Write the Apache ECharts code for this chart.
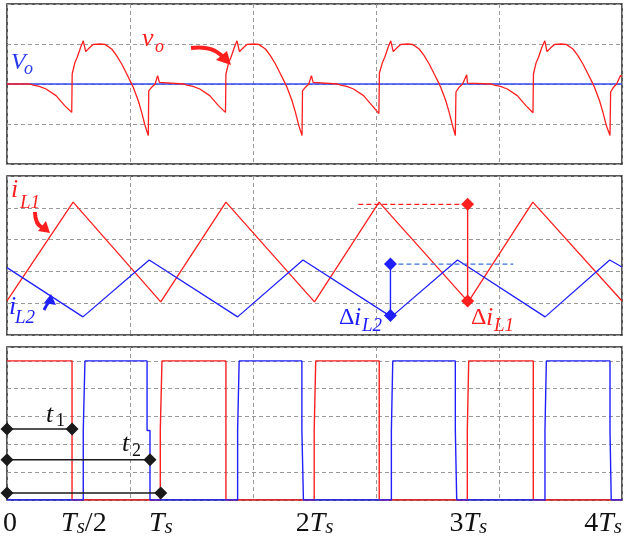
<!DOCTYPE html>
<html>
<head>
<meta charset="utf-8">
<script src="https://cdn.jsdelivr.net/npm/echarts@6/dist/echarts.min.js"></script>
<style>
html,body{margin:0;padding:0;background:#fff;}
#chart{width:635px;height:538px;}
</style>
</head>
<body>
<div id="chart"></div>
<script>
// ---------- data (time in units of Ts) ----------
const tickValues = [0, 0.5, 1, 2, 3, 4];
const tickLabels = ['{z|0}', '{i|T}{s|s}{n|/2}', '{i|T}{s|s}', '{n|2}{i|T}{s|s}', '{n|3}{i|T}{s|s}', '{n|4}{i|T}{s|s}'];

// Panel 1: output voltage ripple (relative to Vo, in grid divisions)
const voRef = [[0, 0], [4, 0]];
const voWave = [
  [0,0],[0.15,0],[0.17,-0.03],[0.21,-0.06],[0.254,-0.125],[0.319,-0.29],[0.375,-0.54],[0.421,-0.71],[0.424,0.25],[0.442,0.54],[0.457,0.67],[0.479,0.92],[0.496,1.08],[0.512,0.81],[0.54,0.92],[0.561,0.99],[0.605,1.0],[0.637,0.99],[0.681,0.875],[0.713,0.71],[0.746,0.5],[0.779,0.25],[0.806,0.04],[0.821,-0.08],[0.854,-0.42],[0.876,-0.71],[0.898,-1.04],[0.919,-1.29],[0.922,-0.17],[0.941,-0.08],[0.963,0],[0.98,0.21],[0.991,0.04],
  [1.0,0],[1.15,0],[1.17,-0.03],[1.21,-0.06],[1.254,-0.125],[1.319,-0.29],[1.375,-0.54],[1.421,-0.71],[1.424,0.25],[1.442,0.54],[1.457,0.67],[1.479,0.92],[1.496,1.08],[1.512,0.81],[1.54,0.92],[1.561,0.99],[1.605,1.0],[1.637,0.99],[1.681,0.875],[1.713,0.71],[1.746,0.5],[1.779,0.25],[1.806,0.04],[1.821,-0.08],[1.854,-0.42],[1.876,-0.71],[1.898,-1.04],[1.919,-1.29],[1.922,-0.17],[1.941,-0.08],[1.963,0],[1.98,0.21],[1.991,0.04],
  [2.0,0],[2.15,0],[2.17,-0.03],[2.21,-0.06],[2.254,-0.125],[2.319,-0.29],[2.375,-0.54],[2.419,-0.74],[2.422,0.27],[2.442,0.54],[2.457,0.67],[2.479,0.92],[2.496,1.08],[2.512,0.81],[2.54,0.92],[2.561,0.99],[2.605,1.0],[2.637,0.99],[2.681,0.875],[2.713,0.71],[2.746,0.5],[2.779,0.25],[2.806,0.04],[2.821,-0.08],[2.854,-0.42],[2.876,-0.71],[2.898,-1.04],[2.916,-1.29],[2.92,-0.2],[2.941,-0.08],[2.963,0],[2.99,0.23],[2.995,0.02],
  [3.0,0],[3.15,0],[3.17,-0.03],[3.21,-0.06],[3.254,-0.125],[3.319,-0.29],[3.375,-0.54],[3.421,-0.72],[3.424,0.25],[3.442,0.54],[3.457,0.67],[3.479,0.92],[3.498,1.08],[3.512,0.81],[3.54,0.92],[3.561,0.99],[3.605,1.0],[3.637,0.99],[3.681,0.875],[3.713,0.71],[3.746,0.5],[3.779,0.25],[3.806,0.04],[3.821,-0.08],[3.854,-0.42],[3.876,-0.71],[3.898,-1.04],[3.922,-1.29],[3.926,-0.2],[3.945,-0.08],[3.965,0],[3.99,0.21],[4.0,0.18]
];

// Panel 2: inductor currents
const iL1 = [[0,1.07],[0.43,4.18],[1.0,1.04],[1.424,4.18],[2.0,1.04],[2.42,4.18],[3.0,1.04],[3.42,4.18],[4.0,1.07]];
const iL2 = [[0,2.12],[0.494,0.57],[0.925,2.36],[1.5,0.57],[1.925,2.36],[2.5,0.57],[2.93,2.36],[3.5,0.57],[3.92,2.36],[4.0,2.14]];
const dL1Guide = [[2.285,4.11],[2.996,4.11]];
const dL1Bar = [[2.996,4.11],[2.996,1.07]];
const dL2Guide = [[2.494,2.23],[3.293,2.23]];
const dL2Bar = [[2.494,2.23],[2.494,0.61]];

// Panel 3: gate signals
const gate1 = [[0,1],[0.423,1],[0.423,0],[0.997,0],[0.997,0.5],[1.008,0.5],[1.008,1],[1.424,1],[1.424,0],[1.998,0],[1.998,0.5],[2.008,0.5],[2.008,1],[2.421,1],[2.421,0],[2.994,0],[2.994,0.5],[3.003,0.5],[3.003,1],[3.423,1],[3.423,0],[4,0]];
const gate2 = [[0,0],[0.496,0],[0.496,0.5],[0.507,0.5],[0.507,1],[0.911,1],[0.911,0.5],[0.93,0.5],[0.93,0],[1.5,0],[1.5,0.5],[1.51,0.5],[1.51,1],[1.918,1],[1.918,0.5],[1.928,0.5],[1.928,0],[2.5,0],[2.5,0.5],[2.509,0.5],[2.509,1],[2.916,1],[2.916,0.5],[2.925,0.5],[2.925,0],[3.499,0],[3.499,0.5],[3.508,0.5],[3.508,1],[3.922,1],[3.922,0.5],[3.93,0.5],[3.93,0],[4,0]];
const t1Bar = [[0,0.51],[0.423,0.51]];
const t2Bar = [[0,0.29],[0.93,0.29]];
const tsBar = [[0,0.05],[1.0,0.05]];

// ---------- styling ----------
const RED = '#ff1f1f', BLUE = '#2020ff', BLK = '#1a1a1a';
const SERIF = '"Liberation Serif", "DejaVu Serif", serif';
const dashGrid = {show:true, lineStyle:{color:'#9a9a9a', type:[4,3], width:1}};
function xAx(g){return {gridIndex:g,type:'value',min:0,max:4,interval:0.8,axisLine:{show:false},axisTick:{show:false},axisLabel:{show:false},splitLine:dashGrid};}
function yAx(g,min,max,iv){return {gridIndex:g,type:'value',min:min,max:max,interval:iv,axisLine:{show:false},axisTick:{show:false},axisLabel:{show:false},splitLine:dashGrid};}
function ln(data,xi,color,extra){return Object.assign({type:'line',xAxisIndex:xi,yAxisIndex:xi,data:data,showSymbol:false,symbol:'none',lineStyle:{color:color,width:1.3},itemStyle:{color:color},animation:false,silent:true},extra||{});}
function marked(data,xi,color,w){return ln(data,xi,color,{symbol:'diamond',symbolSize:13,showSymbol:true,lineStyle:{color:color,width:w}});}

const chart = echarts.init(document.getElementById('chart'));
const gridBase = {left:7,right:13,show:true,borderColor:'#222',borderWidth:1.5,backgroundColor:'#fff',containLabel:false,outerBoundsMode:'none'};

function txt(x,y,s,size,color,italic){return {type:'text',x:x,y:y,z:100,style:{text:s,fill:color,font:(italic?'italic ':'')+size+'px '+SERIF,textVerticalAlign:'middle',verticalAlign:'middle'}};}

const option = {
  backgroundColor:'#fff',
  animation:false,
  grid:[
    Object.assign({top:4,height:160},gridBase),
    Object.assign({top:176,height:159},gridBase),
    Object.assign({top:347,height:153},gridBase)
  ],
  xAxis:[xAx(0),xAx(1),xAx(2),
    {gridIndex:2,type:'value',min:0,max:4,interval:0.5,position:'bottom',
     axisLine:{show:false},axisTick:{show:false},splitLine:{show:false},
     axisLabel:{show:true,margin:6,alignMaxLabel:'right',
       formatter:function(v){for(let k=0;k<tickValues.length;k++){if(Math.abs(tickValues[k]-v)<1e-6)return tickLabels[k];}return '';},
       rich:{
         z:{fontFamily:SERIF,fontSize:28,color:'#111',lineHeight:32,verticalAlign:'bottom',padding:[0,0,0,6]},
         n:{fontFamily:SERIF,fontSize:28,color:'#111',lineHeight:32,verticalAlign:'bottom'},
         i:{fontFamily:SERIF,fontSize:28,fontStyle:'italic',color:'#111',lineHeight:32,verticalAlign:'bottom'},
         s:{fontFamily:SERIF,fontSize:21,fontStyle:'italic',color:'#111',lineHeight:15,verticalAlign:'bottom'}
       }}}
  ],
  yAxis:[yAx(0,-2,2,1),yAx(1,0,5,1),yAx(2,0,1.1,0.2)],
  series:[
    ln(voRef,0,'#3347f0',{lineStyle:{color:'#3347f0',width:1.6}}),
    ln(voWave,0,RED),
    ln(iL1,1,RED),
    ln(iL2,1,BLUE),
    ln(dL1Guide,1,RED,{lineStyle:{color:RED,width:1.2,type:[5,3]}}),
    ln(dL2Guide,1,'#3b6fe0',{lineStyle:{color:'#3b6fe0',width:1.2,type:[5,3]}}),
    marked(dL1Bar,1,RED,1.4),
    marked(dL2Bar,1,BLUE,1.4),
    ln(gate1,2,RED,{lineStyle:{color:RED,width:1.4}}),
    ln(gate2,2,BLUE,{lineStyle:{color:BLUE,width:1.4}}),
    marked(t1Bar,2,BLK,1.5),
    marked(t2Bar,2,BLK,1.5),
    marked(tsBar,2,BLK,1.5)
  ],
  graphic:[
    // panel 1 labels
    txt(11,63,'V',24,'#2a3af0',true),
    txt(24,69,'o',18,'#2a3af0',true),
    txt(142,39,'v',26,RED,true),
    txt(155,47,'o',18,RED,true),
    {type:'bezierCurve',z:100,shape:{x1:191,y1:48,x2:223,y2:57,cpx1:208,cpy1:46,cpx2:216,cpy2:50},style:{stroke:RED,lineWidth:4,fill:null}},
    {type:'polygon',z:100,shape:{points:[[231,65],[227,51],[216,60]]},style:{fill:RED}},
    // panel 2 labels
    txt(11,190,'i',26,RED,true),
    txt(20,203,'L1',19,RED,true),
    {type:'bezierCurve',z:100,shape:{x1:35,y1:212,x2:43,y2:228,cpx1:35,cpy1:222,cpx2:38,cpy2:226},style:{stroke:RED,lineWidth:4,fill:null}},
    {type:'polygon',z:100,shape:{points:[[50,233],[46,221],[38,231]]},style:{fill:RED}},
    txt(9,307,'i',26,BLUE,true),
    txt(15,318,'L2',19,BLUE,true),
    {type:'bezierCurve',z:100,shape:{x1:44,y1:310,x2:49,y2:302,cpx1:46,cpy1:306,cpx2:47,cpy2:304},style:{stroke:BLUE,lineWidth:3,fill:null}},
    {type:'polygon',z:100,shape:{points:[[51,294],[44,303],[56,305]]},style:{fill:BLUE}},
    txt(339,318,'Δ',24,BLUE,false),
    txt(354,318,'i',26,BLUE,true),
    txt(362,326,'L2',19,BLUE,true),
    txt(471,318,'Δ',24,RED,false),
    txt(486,318,'i',26,RED,true),
    txt(494,326,'L1',19,RED,true),
    // panel 3 labels
    txt(46,415,'t',26,'#111',true),
    txt(56,421,'1',18,'#111',false),
    txt(122,444,'t',26,'#111',true),
    txt(132,451,'2',18,'#111',false)
  ]
};
chart.setOption(option);
</script>
</body>
</html>
